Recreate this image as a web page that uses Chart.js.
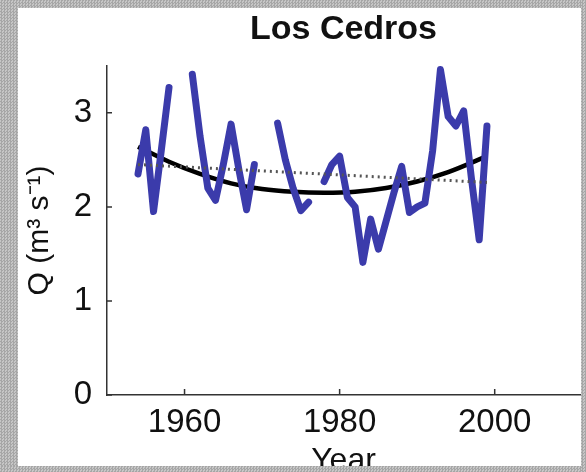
<!DOCTYPE html>
<html lang="es">
<head>
    <meta charset="UTF-8">
    <title>Los Cedros</title>
    <style>
        html, body {
            margin: 0;
            padding: 0;
            width: 586px;
            height: 472px;
            overflow: hidden;
        }
        body {
            position: relative;
            background: repeating-conic-gradient(#a6a6a6 0 25%, #c6c6c6 0 50%) 0 0 / 3px 3px;
        }
        #panel {
            position: absolute;
            left: 18px;
            top: 8px;
            width: 563px;
            height: 458px;
            background: #fff;
        }
        #chart-box {
            position: absolute;
            left: 0;
            top: 0;
            width: 586px;
            height: 472px;
        }
        .edge {
            position: absolute;
            background: repeating-conic-gradient(#a6a6a6 0 25%, #c6c6c6 0 50%) 0 0 / 3px 3px;
        }
    </style>
</head>
<body>
    <div id="panel"></div>
    <div id="chart-box">
        <canvas id="flowChart" width="586" height="472"></canvas>
    </div>
    <div class="edge" style="left:0;top:0;width:18px;height:472px"></div>
    <div class="edge" style="left:0;top:0;width:586px;height:8px"></div>
    <div class="edge" style="left:0;top:466px;width:586px;height:6px"></div>
    <div class="edge" style="left:581px;top:0;width:5px;height:472px"></div>

    <script src="https://cdn.jsdelivr.net/npm/chart.js"></script>
    <script>
        // 年ごとの流量 (null = 欠測)
        const years = [1954, 1955, 1956, 1957, 1958, 1959, 1960, 1961, 1962, 1963,
                       1964, 1965, 1966, 1967, 1968, 1969, 1970, 1971, 1972, 1973,
                       1974, 1975, 1976, 1977, 1978, 1979, 1980, 1981, 1982, 1983,
                       1984, 1985, 1986, 1987, 1988, 1989, 1990, 1991, 1992, 1993,
                       1994, 1995, 1996, 1997, 1998, 1999];
        const flow = [2.35, 2.82, 1.95, 2.6, 3.27, null, null, 3.41, 2.75, 2.2,
                      2.07, 2.45, 2.88, 2.4, 1.97, 2.45, null, null, 2.89, 2.5,
                      2.2, 1.96, 2.05, null, 2.27, 2.45, 2.54, 2.1, 2.0, 1.41,
                      1.87, 1.55, 1.85, 2.15, 2.43, 1.94, 2.0, 2.04, 2.6, 3.46,
                      2.96, 2.86, 3.02, 2.3, 1.65, 2.86];

        // 二次曲線 (読み取り値)
        const fitYears = [1954, 1958, 1962, 1966, 1970, 1974, 1978, 1982, 1986, 1990, 1994, 1999];
        const fitValues = [2.64, 2.48, 2.35, 2.25, 2.19, 2.16, 2.15, 2.16, 2.2, 2.27, 2.37, 2.54];

        // 直線トレンド
        const trendYears = [1954, 1999];
        const trendValues = [2.45, 2.26];

        const xTicks = [1960, 1980, 2000];
        const yTicks = [0, 1, 2, 3];

        const toPoints = (xs, ys) => xs.map((x, i) => ({ x: x, y: ys[i] }));

        // 軸の内側の目盛り
        const innerTicks = {
            id: 'innerTicks',
            afterDraw(chart) {
                const ctx = chart.ctx;
                const xs = chart.scales.x, ys = chart.scales.y;
                ctx.save();
                ctx.strokeStyle = '#333';
                ctx.lineWidth = 1.5;
                ctx.beginPath();
                xTicks.forEach(v => {
                    const px = xs.getPixelForValue(v);
                    ctx.moveTo(px, xs.top);
                    ctx.lineTo(px, xs.top - 6);
                });
                yTicks.forEach(v => {
                    const py = ys.getPixelForValue(v);
                    ctx.moveTo(ys.right, py);
                    ctx.lineTo(ys.right + 5, py);
                });
                ctx.stroke();
                ctx.restore();
            }
        };

        const fontFamily = "'Liberation Sans', Arial, sans-serif";

        new Chart(document.getElementById('flowChart'), {
            type: 'line',
            data: {
                datasets: [
                    {
                        data: toPoints(trendYears, trendValues),
                        borderColor: '#555',
                        borderWidth: 3,
                        borderDash: [2, 4],
                        pointRadius: 0
                    },
                    {
                        data: toPoints(years, flow),
                        borderColor: '#3b3bab',
                        borderWidth: 7,
                        pointRadius: 0,
                        borderJoinStyle: 'round',
                        borderCapStyle: 'round',
                        spanGaps: false
                    },
                    {
                        data: toPoints(fitYears, fitValues),
                        borderColor: '#000',
                        borderWidth: 4.5,
                        pointRadius: 0,
                        cubicInterpolationMode: 'monotone'
                    }
                ]
            },
            options: {
                responsive: false,
                animation: false,
                layout: { padding: { left: 0, right: 6, top: 0, bottom: 0 } },
                plugins: {
                    legend: { display: false },
                    tooltip: { enabled: false },
                    title: {
                        display: true,
                        fullSize: false,
                        text: 'Los Cedros',
                        color: '#111',
                        font: { family: fontFamily, size: 34, weight: 'bold', lineHeight: 1.2 },
                        padding: { top: 9, bottom: 16 }
                    }
                },
                scales: {
                    x: {
                        type: 'linear',
                        min: 1950,
                        max: 2011,
                        afterBuildTicks: s => { s.ticks = xTicks.map(v => ({ value: v })); },
                        afterFit: s => { s.height = 77; },
                        grid: { display: true, drawOnChartArea: false, drawTicks: false },
                        border: { color: '#333', width: 1.5 },
                        ticks: {
                            color: '#111',
                            padding: 8,
                            maxRotation: 0,
                            font: { family: fontFamily, size: 33 },
                            callback: v => String(v)
                        },
                        title: {
                            display: true,
                            text: 'Year',
                            color: '#111',
                            font: { family: fontFamily, size: 32, lineHeight: 1 },
                            padding: { top: 0, bottom: -5 }
                        }
                    },
                    y: {
                        min: 0,
                        max: 3.5,
                        afterBuildTicks: s => { s.ticks = yTicks.map(v => ({ value: v })); },
                        afterFit: s => { s.width = 107; },
                        grid: { display: true, drawOnChartArea: false, drawTicks: false },
                        border: { color: '#333', width: 1.5 },
                        ticks: {
                            color: '#111',
                            padding: 15,
                            font: { family: fontFamily, size: 33 }
                        },
                        title: {
                            display: true,
                            text: 'Q (m³ s⁻¹)',
                            color: '#111',
                            font: { family: fontFamily, size: 30, lineHeight: 1.2 },
                            padding: { top: 22, bottom: 0 }
                        }
                    }
                }
            },
            plugins: [innerTicks]
        });
    </script>
</body>
</html>
